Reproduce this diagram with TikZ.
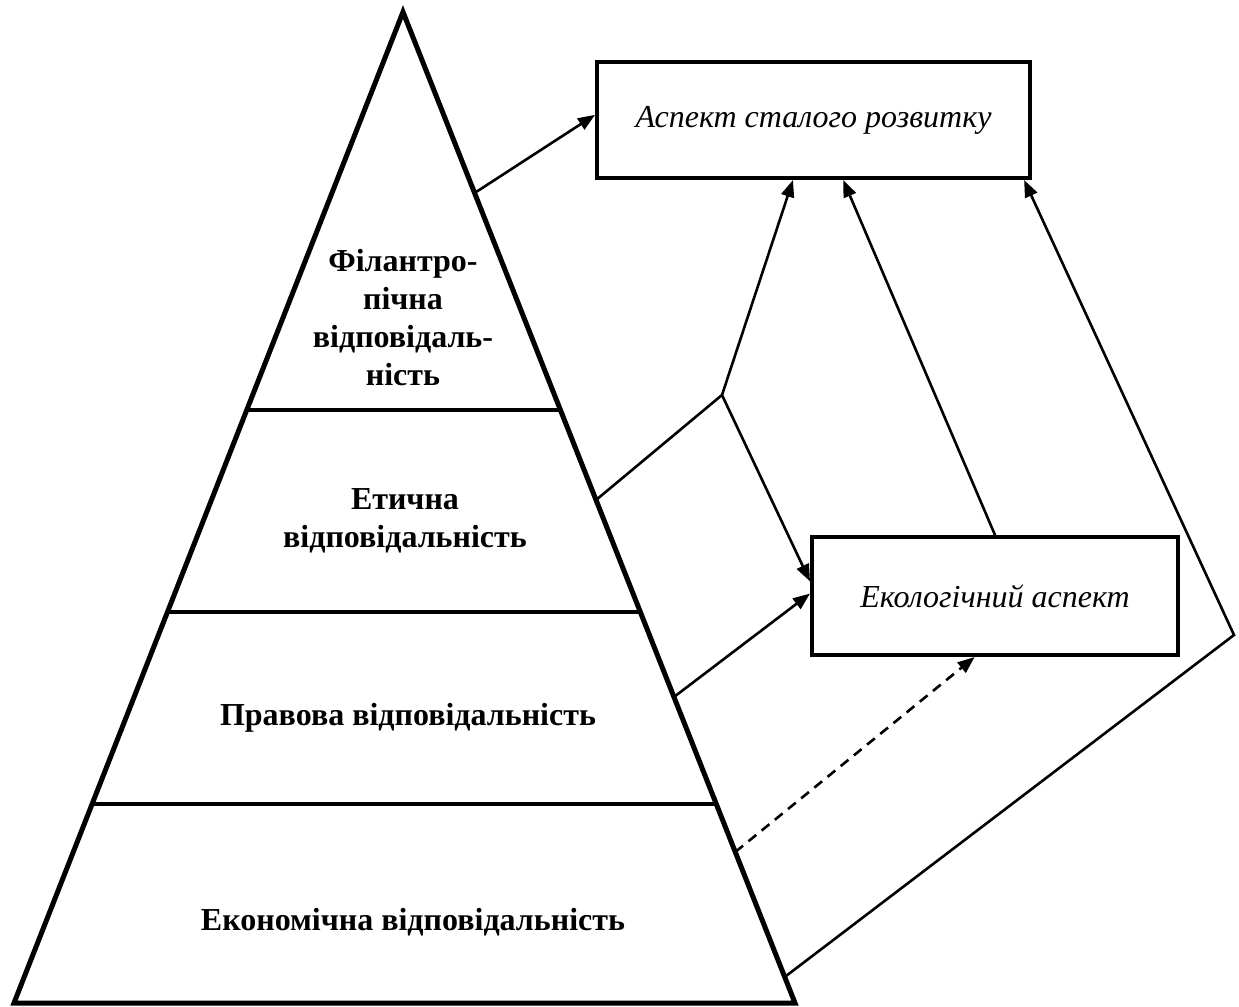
\documentclass[tikz,border=0pt]{standalone}
\usepackage{fontspec}
\setmainfont{Liberation Serif}
\usetikzlibrary{calc,arrows.meta}

\begin{document}
\begin{tikzpicture}[x=0.5pt,y=-0.5pt,
  pyr/.style={line width=2.5pt,line join=miter},
  tier/.style={line width=1.8pt},
  label/.style={font=\fontsize{16}{19}\selectfont\bfseries,align=center,inner sep=0pt},
  aspect/.style={draw,line width=2pt,font=\fontsize{16}{19}\selectfont\itshape,inner sep=0pt},
  link/.style={line width=1.3pt,-{Triangle[length=8.5pt,width=6.5pt]}},
  plain/.style={line width=1.3pt},
  dashlink/.style={link,dash pattern=on 5pt off 3.5pt}]
  \useasboundingbox (0,0) rectangle (1239,1007);

  % pyramid outline
  \coordinate (apex) at (403,12);
  \coordinate (bl) at (14,1003);
  \coordinate (br) at (795,1003);
  \draw[pyr] (apex) -- (bl) -- (br) -- cycle;

  % tier borders
  \foreach \yy/\nm in {410/t1, 612/t2, 804/t3}{
    \coordinate (\nm l) at ($(apex)!{(\yy-12)/991}!(bl)$);
    \coordinate (\nm r) at ($(apex)!{(\yy-12)/991}!(br)$);
    \draw[tier] (\nm l) -- (\nm r);
  }

  % tier labels
  \node[label] (phil) at (403,318) {Філантро-\\пічна\\відповідаль-\\ність};
  \node[label] (eth)  at (405,521) {Етична\\відповідальність};
  \node[label] (law)  at (408,718) {Правова відповідальність};
  \node[label] (econ) at (413,922) {Економічна відповідальність};

  % aspect boxes
  \node[aspect,minimum width=216.5pt,minimum height=58pt] (sust) at (813.5,120) {Аспект сталого розвитку};
  \node[aspect,minimum width=183pt,minimum height=59pt] (eco) at (995,596) {Екологічний аспект};

  % connection points on the right side of the pyramid
  \coordinate (p1) at ($(apex)!{(193-12)/991}!(br)$);
  \coordinate (p2) at ($(apex)!{(500-12)/991}!(br)$);
  \coordinate (p3) at ($(apex)!{(697-12)/991}!(br)$);
  \coordinate (p4) at ($(apex)!{(852-12)/991}!(br)$);
  \coordinate (p5) at ($(apex)!{(977-12)/991}!(br)$);

  % attachment points on the boxes
  \coordinate (sW)  at ($(sust.north west)!0.457!(sust.south west)$);
  \coordinate (sS1) at ($(sust.south west)!0.453!(sust.south east)$);
  \coordinate (sS2) at ($(sust.south west)!0.568!(sust.south east)$);
  \coordinate (sS3) at ($(sust.south west)!0.982!(sust.south east)$);
  \coordinate (eW1) at ($(eco.north west)!0.38!(eco.south west)$);
  \coordinate (eW2) at ($(eco.north west)!0.48!(eco.south west)$);
  \coordinate (eS)  at ($(eco.south west)!0.445!(eco.south east)$);

  \coordinate (fork) at (722,395);
  \coordinate (bend) at (1234,635);

  % connectors
  \draw[link] (p1) -- (sW);
  \draw[plain] (p2) -- (fork);
  \draw[link] (fork) -- (sS1);
  \draw[link] (fork) -- (eW1);
  \draw[link] (eco.north) -- (sS2);
  \draw[link] (p3) -- (eW2);
  \draw[dashlink] (p4) -- (eS);
  \draw[link,line join=miter] (p5) -- (bend) -- (sS3);
\end{tikzpicture}
\end{document}
